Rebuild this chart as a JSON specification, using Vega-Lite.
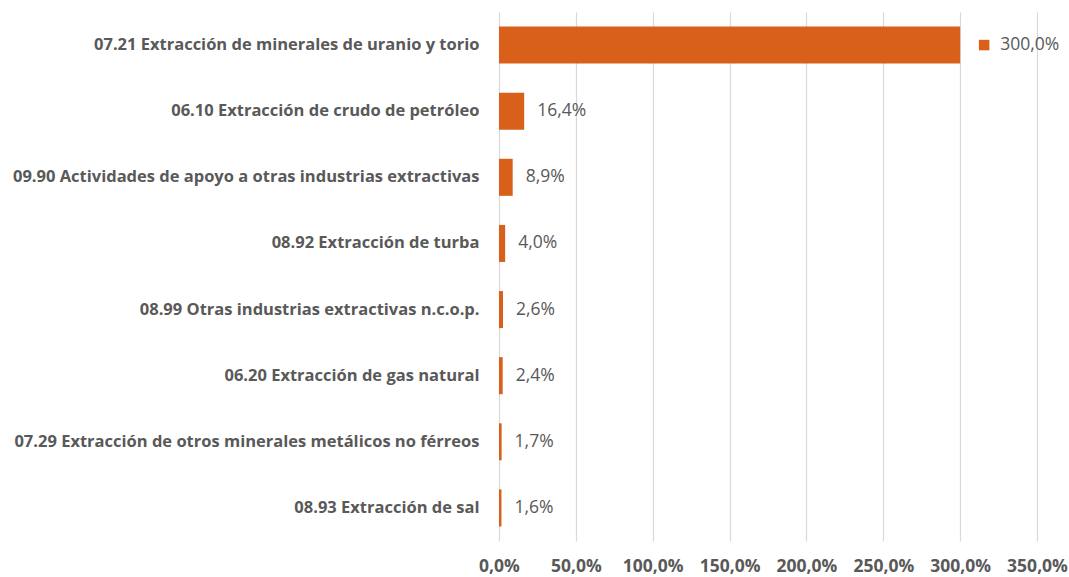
{
  "$schema": "https://vega.github.io/schema/vega-lite/v6.json",
  "autosize": {"type": "none"},
  "width": 538,
  "height": 529,
  "padding": {"left": 499, "top": 12, "right": 32, "bottom": 36},
  "background": "#ffffff",
  "config": {
    "view": {"stroke": null},
    "locale": {"number": {"decimal": ",", "thousands": ".", "grouping": [3], "currency": ["", " €"]}},
    "font": "Open Sans"
  },
  "data": {"values": [
    {"cat": "07.21 Extracción de minerales de uranio y torio", "v": 3.0, "top": true},
    {"cat": "06.10 Extracción de crudo de petróleo", "v": 0.164, "top": false},
    {"cat": "09.90 Actividades de apoyo a otras industrias extractivas", "v": 0.089, "top": false},
    {"cat": "08.92 Extracción de turba", "v": 0.04, "top": false},
    {"cat": "08.99 Otras industrias extractivas n.c.o.p.", "v": 0.026, "top": false},
    {"cat": "06.20 Extracción de gas natural", "v": 0.024, "top": false},
    {"cat": "07.29 Extracción de otros minerales metálicos no férreos", "v": 0.017, "top": false},
    {"cat": "08.93 Extracción de sal", "v": 0.016, "top": false}
  ]},
  "encoding": {
    "y": {"field": "cat", "type": "nominal", "sort": null,
      "scale": {"paddingInner": 0.44, "paddingOuter": 0.22},
      "axis": {"title": null, "domain": false, "ticks": false, "labelPadding": 20,
        "labelFont": "Open Sans", "labelFontSize": 16.5, "labelFontWeight": "bold", "labelColor": "#595959", "labelLimit": 600}},
    "x": {"field": "v", "type": "quantitative",
      "scale": {"domain": [0, 3.5], "nice": false},
      "axis": {"title": null, "format": ".1%", "values": [0, 0.5, 1, 1.5, 2, 2.5, 3, 3.5], "labelOverlap": false, "labelFlush": false,
        "domain": false, "ticks": false, "labelPadding": 16, "grid": true, "gridColor": "#d9d9d9", "gridWidth": 1.2,
        "labelFont": "Open Sans", "labelFontSize": 17.5, "labelFontWeight": "bold", "labelColor": "#595959"}}
  },
  "layer": [
    {"mark": {"type": "bar", "color": "#D9601A"}},
    {"transform": [{"filter": "!datum.top"}],
     "mark": {"type": "text", "align": "left", "baseline": "middle", "dx": 13, "font": "Open Sans", "fontSize": 17.5, "color": "#595959"},
     "encoding": {"text": {"field": "v", "type": "quantitative", "format": ".1%"}}},
    {"transform": [{"filter": "datum.top"}],
     "mark": {"type": "text", "align": "left", "baseline": "middle", "dx": 40, "font": "Open Sans", "fontSize": 17.5, "color": "#595959"},
     "encoding": {"text": {"field": "v", "type": "quantitative", "format": ".1%"}}},
    {"transform": [{"filter": "datum.top"}],
     "mark": {"type": "square", "color": "#D9601A", "opacity": 1, "filled": true, "size": 110, "xOffset": 24}}
  ]
}
